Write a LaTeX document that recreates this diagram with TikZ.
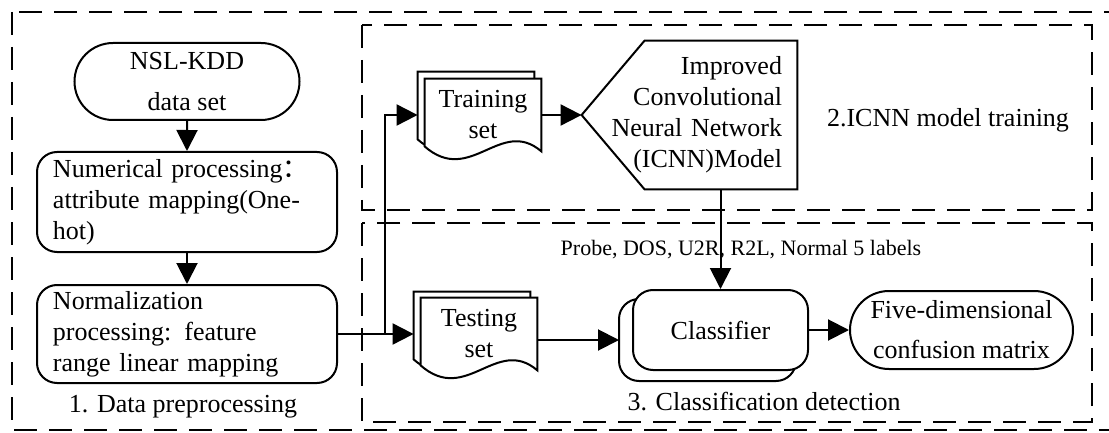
\documentclass[tikz,border=0pt]{standalone}
\usepackage{fontspec}
\setmainfont{Liberation Serif}
\newfontfamily\cjk{Noto Sans CJK SC}
\usetikzlibrary{shapes.misc,arrows.meta,positioning,calc,backgrounds}

% one page of a document stack: node, x offset, y offset (pixels)
\newcommand{\docpage}[3]{%
  \draw[page] ($(#1.north west)+(#2,#3)$) -- ($(#1.north east)+(#2,#3)$) -- ($(#1.south east)+(#2,#3)$)
    .. controls ($(#1.south east)+(#2-41,#3-35)$) and ($(#1.south east)+(#2-71,#3+35)$) .. ($(#1.south west)+(#2,#3-5)$) -- cycle;}

\begin{document}
\begin{tikzpicture}[x=0.5pt, y=-0.5pt,
  font=\fontsize{13}{15.5}\selectfont,
  frame/.style={draw, line width=1pt, dash pattern=on 11.5pt off 6pt},
  term/.style={rounded rectangle, draw, line width=1pt, minimum width=112.5pt, minimum height=38.5pt, align=center, inner sep=0pt},
  proc/.style={rectangle, rounded corners=10pt, draw, line width=1pt, minimum height=50pt, text width=134pt, inner xsep=8pt, inner ysep=0pt, align=left},
  doc/.style={rectangle, minimum width=58pt, minimum height=36pt, align=center, inner sep=0pt},
  page/.style={draw, line width=1pt, fill=white},
  flow/.style={line width=1pt, -{Triangle[length=10.5pt, width=10.5pt]}},
]
  \useasboundingbox (0,0) rectangle (1109,433);
  \clip (0,0) rectangle (1109,433);

  % frames
  \draw[frame] (12,12) rectangle (1114,430);
  \draw[frame] (362,25) rectangle (1092,210);
  \draw[frame] (362,223) rectangle (1092,422);

  % 1. data preprocessing
  \node[term] (ds) at (187,81.5) {NSL-KDD\\[5pt]data set};
  \node[proc] (num) at (187,202) {Numerical processing{\cjk ：}\\attribute mapping(One-\\hot)};
  \node[proc, minimum height=49pt] (norm) at (187,334) {Normalization\\processing: feature\\range linear mapping};
  \node (lab1) at (183,407) {1. Data preprocessing};

  % 2. ICNN model training
  \node[doc] (train) at (483,115) {Training\\set};
  \node[rectangle, minimum width=107.5pt, minimum height=74pt, text width=92.5pt, inner xsep=7.5pt, align=right] (icnn) at (689.5,115)
    {Improved\\Convolutional\\Neural Network\\(ICNN)Model};
  \draw[line width=1pt] (icnn.north east) -- ($(icnn.north west)+(63,0)$) -- (icnn.west)
    -- ($(icnn.south west)+(63,0)$) -- (icnn.south east) -- cycle;
  \node (lab2) at (948,120) {2.ICNN model training};

  % 3. classification detection
  \node[doc] (test) at (479,334) {Testing\\set};
  \node[rectangle, rounded corners=10pt, draw, line width=1pt, fill=white, minimum width=87.5pt, minimum height=40pt] (cls) at (720.5,330) {Classifier};
  \node[term, minimum width=111.5pt, minimum height=39pt] (cm) at (961.5,330) {Five-dimensional\\[4.5pt]confusion matrix};
  \node[font=\fontsize{11}{12}\selectfont] (labels) at (741,250) {Probe, DOS, U2R, R2L, Normal 5 labels};
  \node (lab3) at (764,402) {3. Classification detection};

  \begin{scope}[on background layer]
    \docpage{train}{-7}{-7}
    \docpage{train}{0}{0}
    \docpage{test}{-7}{-6}
    \docpage{test}{0}{0}
    \draw[page, rounded corners=10pt] ($(cls.north west)+(-13,10)$) rectangle ($(cls.south east)+(-13,10)$);
  \end{scope}

  \coordinate (clsin) at ($(cls.west)+(-13,10)$);

  % connectors
  \draw[flow] (ds) -- (num);
  \draw[flow] (num) -- (norm);
  \draw[flow] (norm.east) -- ($(test.west)+(-7,0)$);
  \draw[flow] (norm.east) -- ++(47,0) |- ($(train.west)+(-7,0)$);
  \draw[flow] (train.east) -- (icnn.west);
  \draw[flow] (cls.north |- icnn.south) -- (cls.north);
  \draw[flow] (test.east |- clsin) -- (clsin);
  \draw[flow] (cls.east) -- (cm.west);
\end{tikzpicture}
\end{document}
